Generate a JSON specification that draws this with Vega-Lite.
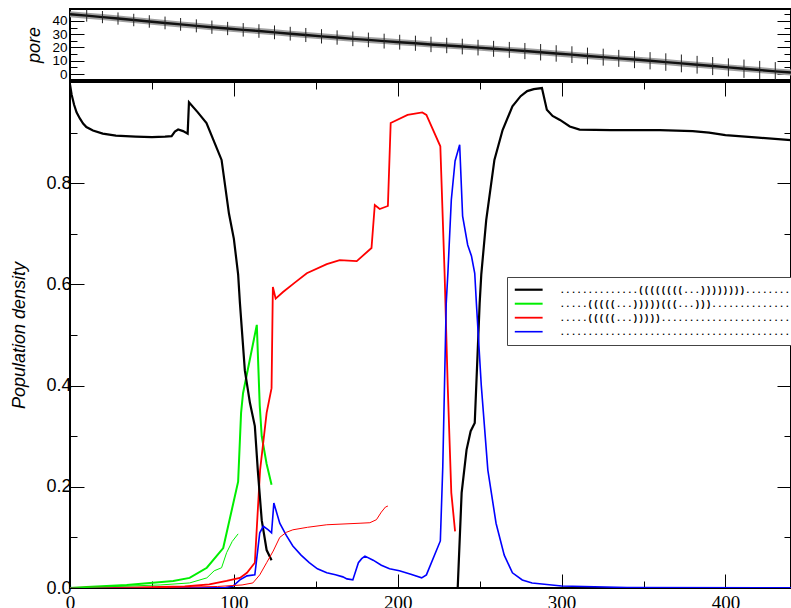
{
  "$schema": "https://vega.github.io/schema/vega-lite/v6.json",
  "background": "white",
  "padding": {"left": 9, "top": 8, "right": 0, "bottom": 0},
  "spacing": -6,
  "config": {
    "view": {"stroke": "black", "strokeWidth": 2},
    "axis": {"grid": false, "domain": false, "tickColor": "black", "tickWidth": 1, "labelColor": "black", "titleColor": "black", "labelFlush": false, "labelOverlap": false}
  },
  "datasets": {
    "pore": [
      {"x": 0, "m": 45}, {"x": 10.2, "m": 44.0}, {"x": 19.8, "m": 42.9}, {"x": 29.3, "m": 41.8}, {"x": 38.9, "m": 40.7}, {"x": 48.4, "m": 39.6}, {"x": 58.0, "m": 38.5}, {"x": 67.5, "m": 37.4}, {"x": 77.1, "m": 36.3}, {"x": 86.6, "m": 35.3}, {"x": 96.2, "m": 34.3}, {"x": 105.7, "m": 33.3}, {"x": 115.3, "m": 32.4}, {"x": 124.8, "m": 31.4}, {"x": 134.4, "m": 30.4}, {"x": 143.9, "m": 29.4}, {"x": 153.5, "m": 28.4}, {"x": 163.0, "m": 27.5}, {"x": 172.6, "m": 26.5}, {"x": 182.1, "m": 25.7}, {"x": 191.7, "m": 24.8}, {"x": 201.2, "m": 24.0}, {"x": 210.8, "m": 23.2}, {"x": 220.3, "m": 22.3}, {"x": 229.9, "m": 21.5}, {"x": 239.4, "m": 20.7}, {"x": 249.0, "m": 19.9}, {"x": 258.5, "m": 19.0}, {"x": 268.1, "m": 18.2}, {"x": 277.6, "m": 17.3}, {"x": 287.2, "m": 16.4}, {"x": 296.7, "m": 15.5}, {"x": 306.3, "m": 14.6}, {"x": 315.8, "m": 13.6}, {"x": 325.4, "m": 12.7}, {"x": 334.9, "m": 11.8}, {"x": 344.5, "m": 10.9}, {"x": 354.0, "m": 10.0}, {"x": 363.6, "m": 9.0}, {"x": 373.1, "m": 8.0}, {"x": 382.7, "m": 7.0}, {"x": 392.2, "m": 6.0}, {"x": 401.8, "m": 5.0}, {"x": 411.3, "m": 4.0}, {"x": 420.9, "m": 3.0}, {"x": 430.4, "m": 2.0}, {"x": 440, "m": 1.1}
    ],
    "err": [
      {"x": 10.2, "lo": 39.5, "hi": 48.5}, {"x": 19.8, "lo": 38.3, "hi": 47.5}, {"x": 29.3, "lo": 37.2, "hi": 46.4}, {"x": 38.9, "lo": 36.0, "hi": 45.4}, {"x": 48.4, "lo": 34.9, "hi": 44.3}, {"x": 58.0, "lo": 33.7, "hi": 43.3}, {"x": 67.5, "lo": 32.6, "hi": 42.2}, {"x": 77.1, "lo": 31.4, "hi": 41.2}, {"x": 86.6, "lo": 30.3, "hi": 40.3}, {"x": 96.2, "lo": 29.3, "hi": 39.3}, {"x": 105.7, "lo": 28.2, "hi": 38.4}, {"x": 115.3, "lo": 27.3, "hi": 37.5}, {"x": 124.8, "lo": 26.2, "hi": 36.6}, {"x": 134.4, "lo": 25.2, "hi": 35.6}, {"x": 143.9, "lo": 24.1, "hi": 34.7}, {"x": 153.5, "lo": 23.0, "hi": 33.8}, {"x": 163.0, "lo": 22.1, "hi": 32.9}, {"x": 172.6, "lo": 21.0, "hi": 32.0}, {"x": 182.1, "lo": 20.2, "hi": 31.2}, {"x": 191.7, "lo": 19.2, "hi": 30.4}, {"x": 201.2, "lo": 18.4, "hi": 29.6}, {"x": 210.8, "lo": 17.5, "hi": 28.9}, {"x": 220.3, "lo": 16.5, "hi": 28.1}, {"x": 229.9, "lo": 15.7, "hi": 27.3}, {"x": 239.4, "lo": 14.8, "hi": 26.6}, {"x": 249.0, "lo": 14.0, "hi": 25.8}, {"x": 258.5, "lo": 13.0, "hi": 25.0}, {"x": 268.1, "lo": 12.2, "hi": 24.2}, {"x": 277.6, "lo": 11.2, "hi": 23.4}, {"x": 287.2, "lo": 10.2, "hi": 22.6}, {"x": 296.7, "lo": 9.3, "hi": 21.7}, {"x": 306.3, "lo": 8.3, "hi": 20.9}, {"x": 315.8, "lo": 7.3, "hi": 19.9}, {"x": 325.4, "lo": 6.3, "hi": 19.1}, {"x": 334.9, "lo": 5.4, "hi": 18.2}, {"x": 344.5, "lo": 4.4, "hi": 17.4}, {"x": 354.0, "lo": 3.5, "hi": 16.5}, {"x": 363.6, "lo": 2.4, "hi": 15.6}, {"x": 373.1, "lo": 1.3, "hi": 14.7}, {"x": 382.7, "lo": 0.3, "hi": 13.7}, {"x": 392.2, "lo": -0.8, "hi": 12.8}, {"x": 401.8, "lo": -1.8, "hi": 11.8}, {"x": 411.3, "lo": -2.9, "hi": 10.9}, {"x": 420.9, "lo": -3.9, "hi": 9.9}, {"x": 430.4, "lo": -4.5, "hi": 9.0}
    ],
    "thick": [
      {"s": "g", "seg": "g", "x": 0, "y": 0}, {"s": "g", "seg": "g", "x": 10, "y": 0.002}, {"s": "g", "seg": "g", "x": 34.6, "y": 0.006}, {"s": "g", "seg": "g", "x": 63, "y": 0.014}, {"s": "g", "seg": "g", "x": 73, "y": 0.02}, {"s": "g", "seg": "g", "x": 83.5, "y": 0.04}, {"s": "g", "seg": "g", "x": 93.5, "y": 0.079}, {"s": "g", "seg": "g", "x": 102.6, "y": 0.21}, {"s": "g", "seg": "g", "x": 104.4, "y": 0.346}, {"s": "g", "seg": "g", "x": 105.6, "y": 0.385}, {"s": "g", "seg": "g", "x": 114, "y": 0.52}, {"s": "g", "seg": "g", "x": 115.8, "y": 0.36}, {"s": "g", "seg": "g", "x": 117, "y": 0.3}, {"s": "g", "seg": "g", "x": 120, "y": 0.245}, {"s": "g", "seg": "g", "x": 123, "y": 0.204},
      {"s": "r", "seg": "r", "x": 0, "y": 0}, {"s": "r", "seg": "r", "x": 40, "y": 0.001}, {"s": "r", "seg": "r", "x": 70, "y": 0.003}, {"s": "r", "seg": "r", "x": 85, "y": 0.007}, {"s": "r", "seg": "r", "x": 95.6, "y": 0.014}, {"s": "r", "seg": "r", "x": 103.7, "y": 0.02}, {"s": "r", "seg": "r", "x": 108, "y": 0.03}, {"s": "r", "seg": "r", "x": 112.8, "y": 0.05}, {"s": "r", "seg": "r", "x": 116, "y": 0.233}, {"s": "r", "seg": "r", "x": 120, "y": 0.346}, {"s": "r", "seg": "r", "x": 123, "y": 0.395}, {"s": "r", "seg": "r", "x": 123.8, "y": 0.595}, {"s": "r", "seg": "r", "x": 125.5, "y": 0.572}, {"s": "r", "seg": "r", "x": 130, "y": 0.585}, {"s": "r", "seg": "r", "x": 137, "y": 0.603}, {"s": "r", "seg": "r", "x": 144.5, "y": 0.622}, {"s": "r", "seg": "r", "x": 156.7, "y": 0.64}, {"s": "r", "seg": "r", "x": 164.6, "y": 0.648}, {"s": "r", "seg": "r", "x": 175, "y": 0.646}, {"s": "r", "seg": "r", "x": 184, "y": 0.672}, {"s": "r", "seg": "r", "x": 186, "y": 0.757}, {"s": "r", "seg": "r", "x": 189, "y": 0.749}, {"s": "r", "seg": "r", "x": 194, "y": 0.755}, {"s": "r", "seg": "r", "x": 195.7, "y": 0.919}, {"s": "r", "seg": "r", "x": 206, "y": 0.935}, {"s": "r", "seg": "r", "x": 215, "y": 0.94}, {"s": "r", "seg": "r", "x": 217.5, "y": 0.935}, {"s": "r", "seg": "r", "x": 226, "y": 0.873}, {"s": "r", "seg": "r", "x": 228.6, "y": 0.622}, {"s": "r", "seg": "r", "x": 230.5, "y": 0.4}, {"s": "r", "seg": "r", "x": 232.7, "y": 0.188}, {"s": "r", "seg": "r", "x": 235, "y": 0.112},
      {"s": "b", "seg": "b1", "x": 0, "y": 0.995}, {"s": "b", "seg": "b1", "x": 1, "y": 0.975}, {"s": "b", "seg": "b1", "x": 2.5, "y": 0.955}, {"s": "b", "seg": "b1", "x": 4, "y": 0.94}, {"s": "b", "seg": "b1", "x": 6, "y": 0.928}, {"s": "b", "seg": "b1", "x": 8, "y": 0.918}, {"s": "b", "seg": "b1", "x": 10, "y": 0.911}, {"s": "b", "seg": "b1", "x": 14, "y": 0.904}, {"s": "b", "seg": "b1", "x": 20, "y": 0.898}, {"s": "b", "seg": "b1", "x": 28, "y": 0.894}, {"s": "b", "seg": "b1", "x": 40, "y": 0.892}, {"s": "b", "seg": "b1", "x": 50, "y": 0.891}, {"s": "b", "seg": "b1", "x": 58, "y": 0.892}, {"s": "b", "seg": "b1", "x": 62, "y": 0.893}, {"s": "b", "seg": "b1", "x": 64, "y": 0.902}, {"s": "b", "seg": "b1", "x": 66, "y": 0.906}, {"s": "b", "seg": "b1", "x": 69, "y": 0.903}, {"s": "b", "seg": "b1", "x": 71.8, "y": 0.898}, {"s": "b", "seg": "b1", "x": 72.6, "y": 0.96}, {"s": "b", "seg": "b1", "x": 78, "y": 0.94}, {"s": "b", "seg": "b1", "x": 83.3, "y": 0.919}, {"s": "b", "seg": "b1", "x": 92.5, "y": 0.846}, {"s": "b", "seg": "b1", "x": 97, "y": 0.74}, {"s": "b", "seg": "b1", "x": 100, "y": 0.69}, {"s": "b", "seg": "b1", "x": 102.6, "y": 0.62}, {"s": "b", "seg": "b1", "x": 103.7, "y": 0.563}, {"s": "b", "seg": "b1", "x": 106.7, "y": 0.43}, {"s": "b", "seg": "b1", "x": 109.8, "y": 0.366}, {"s": "b", "seg": "b1", "x": 112.8, "y": 0.32}, {"s": "b", "seg": "b1", "x": 114.6, "y": 0.233}, {"s": "b", "seg": "b1", "x": 117, "y": 0.134}, {"s": "b", "seg": "b1", "x": 120, "y": 0.075}, {"s": "b", "seg": "b1", "x": 123, "y": 0.055},
      {"s": "b", "seg": "b2", "x": 236.6, "y": 0}, {"s": "b", "seg": "b2", "x": 239, "y": 0.188}, {"s": "b", "seg": "b2", "x": 242, "y": 0.273}, {"s": "b", "seg": "b2", "x": 244.5, "y": 0.31}, {"s": "b", "seg": "b2", "x": 247, "y": 0.326}, {"s": "b", "seg": "b2", "x": 250, "y": 0.563}, {"s": "b", "seg": "b2", "x": 251, "y": 0.62}, {"s": "b", "seg": "b2", "x": 254, "y": 0.727}, {"s": "b", "seg": "b2", "x": 259, "y": 0.846}, {"s": "b", "seg": "b2", "x": 264, "y": 0.905}, {"s": "b", "seg": "b2", "x": 270, "y": 0.952}, {"s": "b", "seg": "b2", "x": 275, "y": 0.972}, {"s": "b", "seg": "b2", "x": 279, "y": 0.982}, {"s": "b", "seg": "b2", "x": 283, "y": 0.986}, {"s": "b", "seg": "b2", "x": 288, "y": 0.988}, {"s": "b", "seg": "b2", "x": 291, "y": 0.945}, {"s": "b", "seg": "b2", "x": 294.5, "y": 0.933}, {"s": "b", "seg": "b2", "x": 299, "y": 0.925}, {"s": "b", "seg": "b2", "x": 305, "y": 0.912}, {"s": "b", "seg": "b2", "x": 311, "y": 0.906}, {"s": "b", "seg": "b2", "x": 330, "y": 0.905}, {"s": "b", "seg": "b2", "x": 360, "y": 0.905}, {"s": "b", "seg": "b2", "x": 380, "y": 0.903}, {"s": "b", "seg": "b2", "x": 390, "y": 0.9}, {"s": "b", "seg": "b2", "x": 400, "y": 0.895}, {"s": "b", "seg": "b2", "x": 420, "y": 0.89}, {"s": "b", "seg": "b2", "x": 440, "y": 0.885},
      {"s": "u", "seg": "u", "x": 0, "y": 0}, {"s": "u", "seg": "u", "x": 95, "y": 0.001}, {"s": "u", "seg": "u", "x": 99.5, "y": 0.004}, {"s": "u", "seg": "u", "x": 103.7, "y": 0.016}, {"s": "u", "seg": "u", "x": 108, "y": 0.024}, {"s": "u", "seg": "u", "x": 112.8, "y": 0.026}, {"s": "u", "seg": "u", "x": 115.8, "y": 0.109}, {"s": "u", "seg": "u", "x": 118, "y": 0.122}, {"s": "u", "seg": "u", "x": 121, "y": 0.115}, {"s": "u", "seg": "u", "x": 123, "y": 0.109}, {"s": "u", "seg": "u", "x": 124.4, "y": 0.168}, {"s": "u", "seg": "u", "x": 128, "y": 0.128}, {"s": "u", "seg": "u", "x": 132, "y": 0.104}, {"s": "u", "seg": "u", "x": 136, "y": 0.083}, {"s": "u", "seg": "u", "x": 141, "y": 0.065}, {"s": "u", "seg": "u", "x": 146, "y": 0.05}, {"s": "u", "seg": "u", "x": 151, "y": 0.038}, {"s": "u", "seg": "u", "x": 156.7, "y": 0.03}, {"s": "u", "seg": "u", "x": 162, "y": 0.026}, {"s": "u", "seg": "u", "x": 166.5, "y": 0.022}, {"s": "u", "seg": "u", "x": 169, "y": 0.018}, {"s": "u", "seg": "u", "x": 172.6, "y": 0.016}, {"s": "u", "seg": "u", "x": 176, "y": 0.05}, {"s": "u", "seg": "u", "x": 178, "y": 0.058}, {"s": "u", "seg": "u", "x": 180, "y": 0.063}, {"s": "u", "seg": "u", "x": 185, "y": 0.055}, {"s": "u", "seg": "u", "x": 190, "y": 0.045}, {"s": "u", "seg": "u", "x": 195, "y": 0.038}, {"s": "u", "seg": "u", "x": 201, "y": 0.034}, {"s": "u", "seg": "u", "x": 208, "y": 0.027}, {"s": "u", "seg": "u", "x": 214.6, "y": 0.02}, {"s": "u", "seg": "u", "x": 217.5, "y": 0.026}, {"s": "u", "seg": "u", "x": 226, "y": 0.093}, {"s": "u", "seg": "u", "x": 227.5, "y": 0.24}, {"s": "u", "seg": "u", "x": 229.6, "y": 0.563}, {"s": "u", "seg": "u", "x": 230.6, "y": 0.622}, {"s": "u", "seg": "u", "x": 232.7, "y": 0.767}, {"s": "u", "seg": "u", "x": 235, "y": 0.844}, {"s": "u", "seg": "u", "x": 237.8, "y": 0.876}, {"s": "u", "seg": "u", "x": 239.6, "y": 0.735}, {"s": "u", "seg": "u", "x": 242.7, "y": 0.678}, {"s": "u", "seg": "u", "x": 245, "y": 0.656}, {"s": "u", "seg": "u", "x": 247, "y": 0.622}, {"s": "u", "seg": "u", "x": 248, "y": 0.563}, {"s": "u", "seg": "u", "x": 251, "y": 0.4}, {"s": "u", "seg": "u", "x": 255, "y": 0.233}, {"s": "u", "seg": "u", "x": 260, "y": 0.128}, {"s": "u", "seg": "u", "x": 265, "y": 0.065}, {"s": "u", "seg": "u", "x": 270, "y": 0.03}, {"s": "u", "seg": "u", "x": 276, "y": 0.016}, {"s": "u", "seg": "u", "x": 282, "y": 0.01}, {"s": "u", "seg": "u", "x": 300, "y": 0.004}, {"s": "u", "seg": "u", "x": 340, "y": 0.001}, {"s": "u", "seg": "u", "x": 440, "y": 0.0005}
    ],
    "thin": [
      {"s": "r", "x": 0, "y": 0}, {"s": "r", "x": 60, "y": 0.001}, {"s": "r", "x": 90, "y": 0.003}, {"s": "r", "x": 105, "y": 0.006}, {"s": "r", "x": 111.6, "y": 0.01}, {"s": "r", "x": 115.8, "y": 0.026}, {"s": "r", "x": 120, "y": 0.05}, {"s": "r", "x": 124, "y": 0.073}, {"s": "r", "x": 128, "y": 0.1}, {"s": "r", "x": 132, "y": 0.11}, {"s": "r", "x": 136, "y": 0.115}, {"s": "r", "x": 145, "y": 0.12}, {"s": "r", "x": 156.7, "y": 0.125}, {"s": "r", "x": 177, "y": 0.128}, {"s": "r", "x": 183, "y": 0.129}, {"s": "r", "x": 187, "y": 0.135}, {"s": "r", "x": 190, "y": 0.15}, {"s": "r", "x": 192.5, "y": 0.16}, {"s": "r", "x": 194, "y": 0.162},
      {"s": "g", "x": 0, "y": 0}, {"s": "g", "x": 55, "y": 0.006}, {"s": "g", "x": 73, "y": 0.01}, {"s": "g", "x": 83.5, "y": 0.02}, {"s": "g", "x": 88, "y": 0.034}, {"s": "g", "x": 92.5, "y": 0.04}, {"s": "g", "x": 95.6, "y": 0.07}, {"s": "g", "x": 99, "y": 0.092}, {"s": "g", "x": 102.6, "y": 0.107}
    ]
  },
  "vconcat": [
    {
      "width": 721,
      "height": 71,
      "layer": [
        {
          "data": {"name": "pore"},
          "mark": {"type": "line", "color": "#a0a0a0", "strokeWidth": 6, "clip": true},
          "encoding": {
            "x": {"field": "x", "type": "quantitative", "scale": {"domain": [0, 440], "nice": false, "zero": false}, "axis": null},
            "y": {"field": "m", "type": "quantitative", "scale": {"domain": [-4.5, 49], "nice": false, "zero": false},
              "axis": {"orient": "left", "values": [0, 10, 20, 30, 40], "tickSize": -14, "labelPadding": 17, "labelFont": "Liberation Sans", "labelFontSize": 13.5, "labelBaseline": "middle",
                "title": "pore", "titleFont": "Liberation Sans", "titleFontSize": 18, "titleFontStyle": "italic", "titleFontWeight": "normal", "titlePadding": 8}}
          }
        },
        {
          "data": {"name": "pore"},
          "mark": {"type": "line", "color": "#111111", "strokeWidth": 2.4, "clip": true},
          "encoding": {
            "x": {"field": "x", "type": "quantitative", "axis": null},
            "y": {"field": "m", "type": "quantitative", "axis": {"orient": "right", "values": [0, 10, 20, 30, 40], "tickSize": -14, "labels": false, "title": null}}
          }
        },
        {
          "data": {"name": "err"},
          "mark": {"type": "rule", "color": "#222222", "strokeWidth": 1, "clip": true},
          "encoding": {
            "x": {"field": "x", "type": "quantitative", "axis": null},
            "y": {"field": "lo", "type": "quantitative", "axis": {"orient": "left", "values": [5, 15, 25, 35, 45], "tickSize": -7, "labels": false, "title": null}},
            "y2": {"field": "hi"}
          }
        },
        {
          "data": {"name": "err"},
          "mark": {"type": "point", "opacity": 0, "size": 0, "clip": true},
          "encoding": {
            "x": {"field": "x", "type": "quantitative", "axis": null},
            "y": {"field": "lo", "type": "quantitative", "axis": {"orient": "right", "values": [5, 15, 25, 35, 45], "tickSize": -7, "labels": false, "title": null}}
          }
        }
      ],
      "resolve": {"axis": {"y": "independent", "x": "independent"}}
    },
    {
      "width": 721,
      "height": 506,
      "layer": [
        {
          "data": {"name": "thick"},
          "mark": {"type": "line", "clip": true},
          "encoding": {
            "x": {"field": "x", "type": "quantitative", "scale": {"domain": [0, 440], "nice": false, "zero": false},
              "axis": {"orient": "bottom", "values": [0, 100, 200, 300, 400], "tickSize": -14, "labelPadding": 19, "labelFont": "Liberation Serif", "labelFontSize": 19, "title": null}},
            "y": {"field": "y", "type": "quantitative", "scale": {"domain": [0, 1], "nice": false},
              "axis": {"orient": "left", "values": [0, 0.2, 0.4, 0.6, 0.8], "format": ".1f", "tickSize": -14, "labelPadding": 13, "labelFont": "Liberation Sans", "labelFontSize": 18, "labelBaseline": "middle",
                "title": "Population density", "titleFont": "Liberation Sans", "titleFontSize": 18, "titleFontStyle": "italic", "titleFontWeight": "normal", "titlePadding": 17}},
            "color": {"field": "s", "type": "nominal", "scale": {"domain": ["b", "g", "r", "u"], "range": ["#000000", "#00ee00", "#ff0000", "#0000ff"]},
              "legend": {"orient": "none", "legendX": 437, "legendY": 268, "title": null, "symbolType": "M-5,0H5", "symbolSize": 31, "symbolStrokeWidth": 2, "symbolOffset": 9, "labelOffset": 26,
                "labelFont": "Liberation Mono", "labelFontSize": 9.4, "labelFontWeight": "bold", "labelLimit": 0, "rowPadding": 3, "padding": 8, "strokeColor": "#444444", "fillColor": "white",
                "labelExpr": "datum.label == 'b' ? '..............((((((((...))))))))...........' : datum.label == 'g' ? '.....(((((...)))))(((...))).................' : datum.label == 'r' ? '.....(((((...))))).........................' : '............................................'"}},
            "strokeWidth": {"field": "s", "type": "ordinal", "scale": {"domain": ["b", "g", "r", "u"], "range": [2.2, 1.6, 1.6, 2.6]}, "legend": null},
            "detail": {"field": "seg"}
          }
        },
        {
          "data": {"name": "thin"},
          "mark": {"type": "line", "strokeWidth": 1, "clip": true},
          "encoding": {
            "x": {"field": "x", "type": "quantitative", "axis": {"orient": "top", "values": [0, 100, 200, 300, 400], "tickSize": -14, "labels": false, "title": null}},
            "y": {"field": "y", "type": "quantitative", "axis": {"orient": "right", "values": [0, 0.2, 0.4, 0.6, 0.8], "tickSize": -14, "labels": false, "title": null}},
            "color": {"field": "s", "type": "nominal", "legend": null}
          }
        },
        {
          "data": {"name": "thin"},
          "mark": {"type": "point", "opacity": 0, "size": 0, "clip": true},
          "encoding": {
            "x": {"field": "x", "type": "quantitative", "axis": {"orient": "bottom", "values": [50, 150, 250, 350], "tickSize": -7, "labels": false, "title": null}},
            "y": {"field": "y", "type": "quantitative", "axis": {"orient": "left", "values": [0.1, 0.3, 0.5, 0.7, 0.9], "tickSize": -7, "labels": false, "title": null}}
          }
        },
        {
          "data": {"name": "thin"},
          "mark": {"type": "point", "opacity": 0, "size": 0, "clip": true},
          "encoding": {
            "x": {"field": "x", "type": "quantitative", "axis": {"orient": "top", "values": [50, 150, 250, 350], "tickSize": -7, "labels": false, "title": null}},
            "y": {"field": "y", "type": "quantitative", "axis": {"orient": "right", "values": [0.1, 0.3, 0.5, 0.7, 0.9], "tickSize": -7, "labels": false, "title": null}}
          }
        }
      ],
      "resolve": {"axis": {"x": "independent", "y": "independent"}}
    }
  ]
}
